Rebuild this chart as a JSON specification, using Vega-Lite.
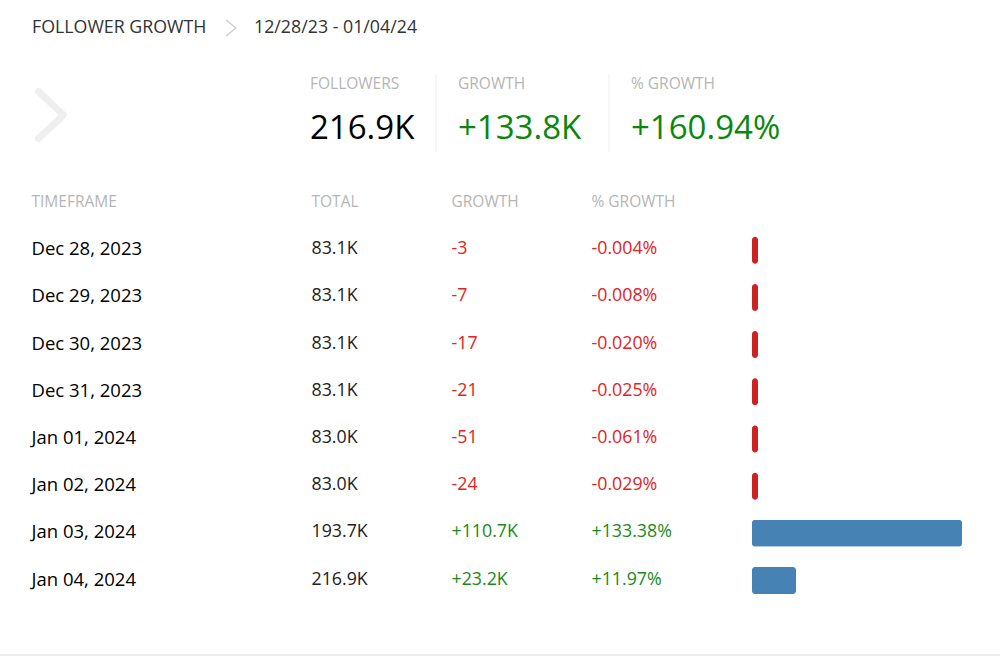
{
  "$schema": "https://vega.github.io/schema/vega-lite/v6.json",
  "width": 1000,
  "height": 656,
  "padding": 0,
  "autosize": {"type": "none"},
  "background": "white",
  "config": {"view": {"stroke": null}, "font": "Open Sans"},
  "datasets": {
    "header": [
      {"part": "title", "label": "FOLLOWER GROWTH"},
      {"part": "dates", "label": "12/28/23 - 01/04/24"}
    ],
    "nav": [{"control": "previous"}],
    "summary": [
      {"order": 1, "metric": "FOLLOWERS", "value": "216.9K", "kind": "total"},
      {"order": 2, "metric": "GROWTH", "value": "+133.8K", "kind": "change"},
      {"order": 3, "metric": "% GROWTH", "value": "+160.94%", "kind": "change"}
    ],
    "columns": [
      {"column": "date", "label": "TIMEFRAME"},
      {"column": "total", "label": "TOTAL"},
      {"column": "growthLabel", "label": "GROWTH"},
      {"column": "pct", "label": "% GROWTH"}
    ],
    "daily": [
      {"date": "Dec 28, 2023", "total": "83.1K", "growth": -3, "growthLabel": "-3", "pct": "-0.004%"},
      {"date": "Dec 29, 2023", "total": "83.1K", "growth": -7, "growthLabel": "-7", "pct": "-0.008%"},
      {"date": "Dec 30, 2023", "total": "83.1K", "growth": -17, "growthLabel": "-17", "pct": "-0.020%"},
      {"date": "Dec 31, 2023", "total": "83.1K", "growth": -21, "growthLabel": "-21", "pct": "-0.025%"},
      {"date": "Jan 01, 2024", "total": "83.0K", "growth": -51, "growthLabel": "-51", "pct": "-0.061%"},
      {"date": "Jan 02, 2024", "total": "83.0K", "growth": -24, "growthLabel": "-24", "pct": "-0.029%"},
      {"date": "Jan 03, 2024", "total": "193.7K", "growth": 110700, "growthLabel": "+110.7K", "pct": "+133.38%"},
      {"date": "Jan 04, 2024", "total": "216.9K", "growth": 23200, "growthLabel": "+23.2K", "pct": "+11.97%"}
    ],
    "frame": [{"edge": "bottom"}]
  },
  "resolve": {"scale": {"x": "independent", "y": "independent"}},
  "layer": [
    {
      "data": {"name": "header"},
      "encoding": {
        "x": {"field": "part", "type": "nominal", "scale": {"type": "point", "domain": ["title", "dates"], "range": [32, 254], "padding": 0}, "axis": null},
        "y": {"datum": "header", "type": "nominal", "scale": {"type": "point", "domain": ["header"], "range": [28, 28], "padding": 0}, "axis": null}
      },
      "layer": [
        {
          "mark": {"type": "text", "align": "left", "baseline": "middle", "fontSize": 17.8, "color": "#333333"},
          "encoding": {"text": {"field": "label"}}
        },
        {
          "transform": [{"filter": "datum.part === 'dates'"}],
          "mark": {"type": "point", "shape": "M -0.6 -1 L 0.6 0 L -0.6 1", "filled": false, "size": 256, "stroke": "#cfcfcf", "strokeWidth": 1.5, "xOffset": -23, "opacity": 1},
          "encoding": {}
        }
      ]
    },
    {
      "data": {"name": "nav"},
      "mark": {"type": "point", "shape": "M -0.53 -1 L 0.53 0 L -0.53 1", "filled": false, "size": 2209, "stroke": "#efefef", "strokeWidth": 7, "strokeCap": "round", "strokeJoin": "round", "opacity": 1},
      "encoding": {
        "x": {"field": "control", "type": "nominal", "scale": {"type": "point", "domain": ["previous"], "range": [51, 51], "padding": 0}, "axis": null},
        "y": {"field": "control", "type": "nominal", "scale": {"type": "point", "domain": ["previous"], "range": [115, 115], "padding": 0}, "axis": null}
      }
    },
    {
      "data": {"name": "summary"},
      "encoding": {
        "x": {"field": "order", "type": "quantitative", "scale": {"domain": [1, 2, 3], "range": [310, 458, 631], "nice": false, "zero": false}, "axis": null}
      },
      "layer": [
        {
          "mark": {"type": "text", "align": "left", "baseline": "middle", "fontSize": 15.5, "color": "#b5b5b5"},
          "encoding": {
            "y": {"datum": "label", "type": "nominal", "scale": {"type": "point", "domain": ["label", "value"], "range": [84, 129], "padding": 0}, "axis": null},
            "text": {"field": "metric"}
          }
        },
        {
          "mark": {"type": "text", "align": "left", "baseline": "middle", "fontSize": 33},
          "encoding": {
            "y": {"datum": "value", "type": "nominal"},
            "text": {"field": "value"},
            "color": {"condition": {"test": "datum.kind === 'change'", "value": "#0b870b"}, "value": "#000000"}
          }
        },
        {
          "transform": [{"filter": "datum.order > 1"}],
          "mark": {"type": "rule", "xOffset": -22, "yOffset": -10, "y2Offset": 23, "color": "#eeeeee", "strokeWidth": 1},
          "encoding": {
            "y": {"datum": "label", "type": "nominal"},
            "y2": {"datum": "value"}
          }
        }
      ]
    },
    {
      "data": {"name": "daily"},
      "encoding": {
        "y": {"field": "date", "type": "nominal", "sort": null, "scale": {"type": "point", "domain": ["header", "Dec 28, 2023", "Dec 29, 2023", "Dec 30, 2023", "Dec 31, 2023", "Jan 01, 2024", "Jan 02, 2024", "Jan 03, 2024", "Jan 04, 2024"], "range": [202, 579.5], "padding": 0}, "axis": null}
      },
      "layer": [
        {
          "data": {"name": "columns"},
          "mark": {"type": "text", "align": "left", "baseline": "middle", "fontSize": 15.5, "color": "#b5b5b5"},
          "encoding": {
            "x": {"field": "column", "type": "nominal", "scale": {"type": "point", "domain": ["date", "spacer", "total", "growthLabel", "pct"], "range": [31.5, 591.5], "padding": 0}, "axis": null},
            "y": {"datum": "header", "type": "nominal"},
            "text": {"field": "label"}
          }
        },
        {
          "mark": {"type": "text", "align": "left", "baseline": "middle", "fontSize": 18.5, "color": "#000000"},
          "encoding": {
            "x": {"datum": "date", "type": "nominal"},
            "text": {"field": "date"}
          }
        },
        {
          "transform": [{"fold": ["total", "growthLabel", "pct"], "as": ["column", "value"]}],
          "mark": {"type": "text", "align": "left", "baseline": "middle", "fontSize": 17.8},
          "encoding": {
            "x": {"field": "column", "type": "nominal"},
            "text": {"field": "value"},
            "color": {"condition": [{"test": "datum.column === 'total'", "value": "#222222"}, {"test": "datum.growth > 0", "value": "#1a8a1a"}], "value": "#e02424"}
          }
        }
      ]
    },
    {
      "data": {"name": "daily"},
      "encoding": {
        "y": {"field": "date", "type": "nominal", "sort": null, "scale": {"type": "point", "domain": ["header", "Dec 28, 2023", "Dec 29, 2023", "Dec 30, 2023", "Dec 31, 2023", "Jan 01, 2024", "Jan 02, 2024", "Jan 03, 2024", "Jan 04, 2024"], "range": [203, 580.5], "padding": 0}, "axis": null},
        "x": {"field": "growth", "type": "quantitative", "scale": {"domain": [0, 110700], "range": [752, 962], "nice": false, "zero": false, "clamp": true}, "axis": null}
      },
      "layer": [
        {
          "transform": [{"filter": "datum.growth > 0"}],
          "mark": {"type": "bar", "size": 27, "cornerRadius": 3, "color": "#4682b4"}
        },
        {
          "transform": [{"filter": "datum.growth < 0"}],
          "mark": {"type": "tick", "thickness": 6, "size": 27, "cornerRadius": 3, "color": "#cc2222", "xOffset": 3, "opacity": 1}
        }
      ]
    },
    {
      "data": {"name": "frame"},
      "mark": {"type": "rule", "color": "#ececec", "strokeWidth": 2},
      "encoding": {
        "y": {"field": "edge", "type": "nominal", "scale": {"type": "point", "domain": ["bottom"], "range": [655, 655], "padding": 0}, "axis": null}
      }
    }
  ]
}
